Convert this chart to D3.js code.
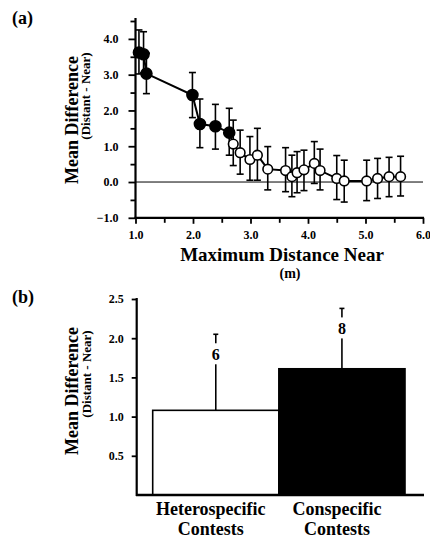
<!DOCTYPE html>
<html><head><meta charset="utf-8">
<script src="https://cdn.jsdelivr.net/npm/d3@7"></script>
<style>
body{margin:0;background:#fff;}
text{font-family:"Liberation Serif","Times New Roman",serif;font-weight:bold;fill:#000;}
</style></head>
<body><svg id="c" width="430" height="541"></svg>
<script>
// Panel (a) data
const distNear = [1.06,1.14,1.19,1.99,2.12,2.39,2.63,2.70,2.82,2.99,3.12,3.30,3.61,3.72,3.81,3.93,4.11,4.21,4.50,4.63,5.02,5.21,5.41,5.61];
const meanDiff = [3.62,3.57,3.03,2.43,1.62,1.56,1.38,1.06,0.82,0.63,0.75,0.36,0.32,0.15,0.26,0.34,0.52,0.32,0.10,0.03,0.03,0.10,0.15,0.15];
const errLow   = [3.02,3.05,2.47,1.80,0.96,0.92,0.75,0.46,0.22,0.05,0.05,-0.22,-0.27,-0.41,-0.30,-0.24,-0.04,-0.22,-0.49,-0.56,-0.52,-0.46,-0.41,-0.39];
const errHigh  = [4.25,4.20,3.60,3.06,2.32,2.17,2.06,1.73,1.45,1.27,1.50,0.99,0.96,0.75,0.85,0.89,1.13,0.92,0.74,0.61,0.61,0.66,0.69,0.72];
const pointType = ["filled","filled","filled","filled","filled","filled","filled","open","open","open","open","open","open","open","open","open","open","open","open","open","open","open","open","open"];
const xTicksA = [1,2,3,4,5,6];
const yTicksA = [-1,0,1,2,3,4];

// Panel (b) data
const contestTypes = ["Heterospecific", "Conspecific"];
const contestLabel2 = ["Contests", "Contests"];
const contestMeans = [1.08, 1.61];
const contestErrTop = [2.05, 2.38];
const contestN = [6, 8];
const contestFill = ["#fff", "#000"];
const yTicksB = [0.5,1.0,1.5,2.0,2.5];

const svg = d3.select("#c");

// ---------- Panel (a) ----------
const xA = d3.scaleLinear().domain([1,6]).range([135.5,423]);
const yA = d3.scaleLinear().domain([-1,4.5]).range([217.8,21]);
const gA = svg.append("g");

gA.append("line").attr("x1",xA(1)).attr("x2",xA(6)).attr("y1",yA(0)).attr("y2",yA(0))
  .attr("stroke","#000").attr("stroke-width",1);

gA.append("g").attr("transform",`translate(${xA(1)},0)`)
  .call(d3.axisLeft(yA).tickValues(yTicksA).tickSize(7).tickPadding(10).tickFormat(d3.format(".1f")));
gA.append("g").attr("transform",`translate(${xA(1)},0)`)
  .call(d3.axisLeft(yA).tickValues(d3.range(-0.5,4.6,1)).tickSize(5).tickFormat(""));
gA.append("g").attr("transform",`translate(0,${yA(-1)})`)
  .call(d3.axisBottom(xA).tickValues(xTicksA).tickSize(6).tickPadding(7).tickFormat(d3.format(".1f")));
gA.append("g").attr("transform",`translate(0,${yA(-1)})`)
  .call(d3.axisBottom(xA).tickValues(d3.range(1.5,6,1)).tickSize(5).tickFormat(""));
gA.selectAll(".domain").remove();
gA.append("line").attr("x1",xA(1)).attr("x2",xA(1)).attr("y1",18).attr("y2",yA(-1)+1).attr("stroke","#000").attr("stroke-width",2.2);
gA.append("line").attr("x1",xA(1)-1).attr("x2",xA(6)+1).attr("y1",yA(-1)).attr("y2",yA(-1)).attr("stroke","#000").attr("stroke-width",2.2);
gA.selectAll(".tick line").attr("stroke-width",1.8);
gA.selectAll(".tick text").style("font-size","12px").style("font-family","Liberation Serif").style("font-weight","bold");

const cap = 3.5;
const eb = gA.append("g").attr("stroke","#000").attr("stroke-width",1.6);
distNear.forEach((x,i)=>{
  const px = xA(x);
  eb.append("line").attr("x1",px).attr("x2",px).attr("y1",yA(errLow[i])).attr("y2",yA(errHigh[i]));
  eb.append("line").attr("x1",px-cap).attr("x2",px+cap).attr("y1",yA(errLow[i])).attr("y2",yA(errLow[i]));
  eb.append("line").attr("x1",px-cap).attr("x2",px+cap).attr("y1",yA(errHigh[i])).attr("y2",yA(errHigh[i]));
});
const pts = distNear.map((x,i)=>[x,meanDiff[i]]);
gA.append("path").datum(pts)
  .attr("d", d3.line().x(d=>xA(d[0])).y(d=>yA(d[1])))
  .attr("fill","none").attr("stroke","#000").attr("stroke-width",2);
gA.selectAll("circle.pt").data(pts).join("circle")
  .attr("cx",d=>xA(d[0])).attr("cy",d=>yA(d[1]))
  .attr("r",(d,i)=>pointType[i]==="filled"?5.5:4.8)
  .attr("fill",(d,i)=>pointType[i]==="filled"?"#000":"#fff")
  .attr("stroke","#000").attr("stroke-width",1.6);

svg.append("text").attr("x",12).attr("y",24).style("font-size","18px").text("(a)");
svg.append("text").attr("transform","translate(78,120) rotate(-90)").attr("text-anchor","middle")
  .style("font-size","18px").text("Mean Difference");
svg.append("text").attr("transform","translate(90,96) rotate(-90)").attr("text-anchor","middle")
  .style("font-size","13px").text("(Distant - Near)");
svg.append("text").attr("x",282).attr("y",261).attr("text-anchor","middle")
  .style("font-size","19px").text("Maximum Distance Near");
svg.append("text").attr("x",290).attr("y",278).attr("text-anchor","middle")
  .style("font-size","14px").text("(m)");

// ---------- Panel (b) ----------
const xB = d3.scaleBand().domain(contestTypes).range([152.7,405]).padding(0);
const yB = d3.scaleLinear().domain([0,2.5]).range([495,299]);
const gB = svg.append("g");

gB.append("g").attr("transform",`translate(136.7,0)`)
  .call(d3.axisLeft(yB).tickValues(yTicksB).tickSize(5).tickPadding(8).tickFormat(d3.format(".1f")));
gB.selectAll(".domain").remove();
gB.selectAll(".tick line").attr("stroke-width",1.8);
gB.selectAll(".tick text").style("font-size","12px").style("font-family","Liberation Serif").style("font-weight","bold");
gB.append("line").attr("x1",136.7).attr("x2",136.7).attr("y1",yB(2.5)-1).attr("y2",yB(0)+1).attr("stroke","#000").attr("stroke-width",2.2);

gB.selectAll("rect.bar").data(contestTypes).join("rect")
  .attr("x",d=>xB(d)).attr("width",xB.bandwidth())
  .attr("y",(d,i)=>yB(contestMeans[i])).attr("height",(d,i)=>yB(0)-yB(contestMeans[i]))
  .attr("fill",(d,i)=>contestFill[i]).attr("stroke","#000").attr("stroke-width",1.6);
gB.append("line").attr("x1",136).attr("x2",424).attr("y1",yB(0)).attr("y2",yB(0)).attr("stroke","#000").attr("stroke-width",2.4);

contestTypes.forEach((c,i)=>{
  const cx = xB(c)+xB.bandwidth()/2;
  const yt = yB(contestErrTop[i]);
  gB.append("line").attr("x1",cx).attr("x2",cx).attr("y1",yB(contestMeans[i])).attr("y2",yt).attr("stroke","#000").attr("stroke-width",1.6);
  gB.append("line").attr("x1",cx-2.5).attr("x2",cx+2.5).attr("y1",yt).attr("y2",yt).attr("stroke","#000").attr("stroke-width",1.6);
  gB.append("rect").attr("x",cx-6).attr("y",yt+9).attr("width",12).attr("height",21).attr("fill","#fff");
  gB.append("text").attr("x",cx).attr("y",yt+26).attr("text-anchor","middle")
    .style("font-size","16px").text(contestN[i]);
  gB.append("text").attr("x",cx-5).attr("y",515).attr("text-anchor","middle").style("font-size","18px").text(c);
  gB.append("text").attr("x",cx-5).attr("y",535).attr("text-anchor","middle").style("font-size","18px").text(contestLabel2[i]);
});

svg.append("text").attr("x",12).attr("y",303).style("font-size","18px").text("(b)");
svg.append("text").attr("transform","translate(78,391) rotate(-90)").attr("text-anchor","middle")
  .style("font-size","18px").text("Mean Difference");
svg.append("text").attr("transform","translate(91,374) rotate(-90)").attr("text-anchor","middle")
  .style("font-size","13px").text("(Distant - Near)");
</script></body></html>
